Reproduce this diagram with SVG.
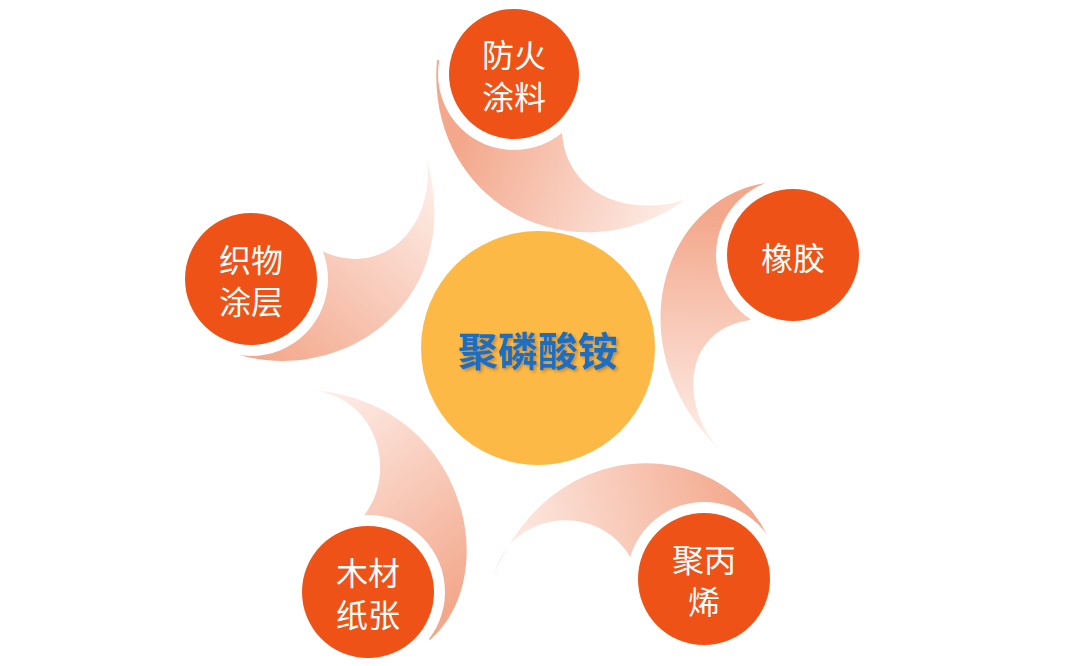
<svg xmlns="http://www.w3.org/2000/svg" width="1068" height="666" viewBox="0 0 1068 666">
<defs>
<style>
.ring{fill:#FFFFFF}
.node{fill:#EE5216}
.lbl{font-family:"Noto Sans CJK SC","Noto Sans",sans-serif;font-size:32px;fill:#FFFFFF;text-anchor:middle;dominant-baseline:central}
.hub{font-family:"Noto Sans CJK SC","Noto Sans",sans-serif;font-size:40px;font-weight:bold;fill:#1B6EC2;text-anchor:middle;dominant-baseline:central}
</style>
<filter id="sh" x="-10%" y="-30%" width="130%" height="160%">
<feDropShadow dx="2" dy="2" stdDeviation="1.5" flood-color="#7a5a20" flood-opacity="0.45"/>
</filter>
<linearGradient id="g1" gradientUnits="userSpaceOnUse" x1="470" y1="120" x2="690" y2="205">
<stop offset="0" stop-color="#F3A88C"/><stop offset="1" stop-color="#FEF1EC"/>
</linearGradient>
<linearGradient id="g2" gradientUnits="userSpaceOnUse" x1="720" y1="215" x2="715" y2="455">
<stop offset="0" stop-color="#F3A88C"/><stop offset="1" stop-color="#FEF1EC"/>
</linearGradient>
<linearGradient id="g3" gradientUnits="userSpaceOnUse" x1="750" y1="510" x2="490" y2="570">
<stop offset="0" stop-color="#F3A88C"/><stop offset="1" stop-color="#FEF1EC"/>
</linearGradient>
<linearGradient id="g4" gradientUnits="userSpaceOnUse" x1="460" y1="600" x2="310" y2="390">
<stop offset="0" stop-color="#F3A88C"/><stop offset="1" stop-color="#FEF1EC"/>
</linearGradient>
<linearGradient id="g5" gradientUnits="userSpaceOnUse" x1="260" y1="360" x2="430" y2="160">
<stop offset="0" stop-color="#F3A88C"/><stop offset="1" stop-color="#FEF1EC"/>
</linearGradient>
</defs>
<rect width="1068" height="666" fill="#FFFFFF"/>
<g id="connectors">
<path d="M437,60 C425,198 568,282 685,200 C625,218 566,192 562,133 L514,74 Z" fill="url(#g1)"/>
<path d="M775,182 C665,190 610,345 722,452 C680,410 680,330 750,320 L793,255 Z" fill="url(#g2)"/>
<path d="M767,535 C720,438 555,428 494,575 C510,510 600,500 632,560 L704,579 Z" fill="url(#g3)"/>
<path d="M430,640 C505,575 465,400 310,390 C375,395 400,470 363,517 L368,592 Z" fill="url(#g4)"/>
<path d="M225,350 C330,392 468,310 427,160 C435,230 380,280 320,250 L251,279 Z" fill="url(#g5)"/>
</g>
<g id="hub">
<circle cx="538" cy="348" r="117" fill="#FDB946"/>
<text class="hub" x="538" y="349" filter="url(#sh)">聚磷酸铵</text>
</g>
<g id="n1">
<circle class="ring" cx="514" cy="74" r="76"/>
<circle class="node" cx="514" cy="74" r="65"/>
<text class="lbl" x="514" y="53">防火</text>
<text class="lbl" x="514" y="95">涂料</text>
</g>
<g id="n2">
<circle class="ring" cx="793" cy="255" r="77"/>
<circle class="node" cx="793" cy="255" r="66"/>
<text class="lbl" x="793" y="256">橡胶</text>
</g>
<g id="n3">
<circle class="ring" cx="704" cy="579" r="77"/>
<circle class="node" cx="704" cy="579" r="66"/>
<text class="lbl" x="704" y="558">聚丙</text>
<text class="lbl" x="704" y="600">烯</text>
</g>
<g id="n4">
<circle class="ring" cx="368" cy="592" r="77"/>
<circle class="node" cx="368" cy="592" r="66"/>
<text class="lbl" x="368" y="571">木材</text>
<text class="lbl" x="368" y="613">纸张</text>
</g>
<g id="n5">
<circle class="ring" cx="251" cy="279" r="77"/>
<circle class="node" cx="251" cy="279" r="66"/>
<text class="lbl" x="251" y="258">织物</text>
<text class="lbl" x="251" y="300">涂层</text>
</g>
</svg>
